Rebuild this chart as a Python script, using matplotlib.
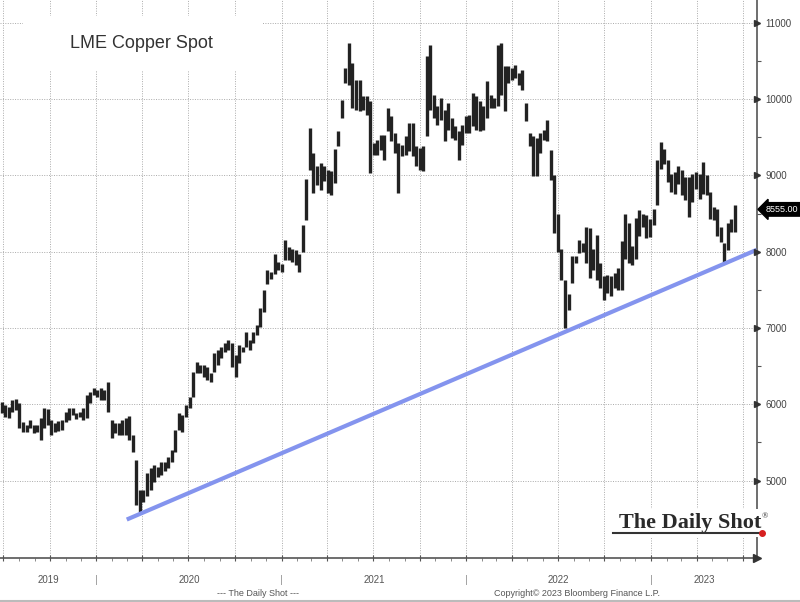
import pandas as pd
import matplotlib
matplotlib.use("Agg")
import matplotlib.pyplot as plt
import matplotlib.dates as mdates
import matplotlib.transforms as mtransforms
from matplotlib.lines import Line2D
from matplotlib.patches import Rectangle

# weekly LME copper bars (high / low), starting 2019-06-28
high = [6030, 5990, 5965, 6057, 6070, 6017, 5770, 5730, 5795, 5730,
        5730, 5820, 5950, 5940, 5800, 5757, 5780, 5800, 5900, 5950,
        5950, 5880, 5900, 5950, 6120, 6160, 6215, 6190, 6215, 6190,
        6290, 5795, 5760, 5760, 5800, 5820, 5850, 5600, 5270, 4880,
        4880, 5100, 5160, 5206, 5184, 5250, 5250, 5315, 5402, 5664,
        5882, 5860, 5990, 6100, 6427, 6558, 6514, 6514, 6492, 6405,
        6667, 6710, 6754, 6798, 6841, 6798, 6645, 6776, 6754, 6950,
        6841, 6950, 7038, 7256, 7495, 7757, 7736, 7975, 7866, 7844,
        8150, 8062, 8040, 8019, 7975, 8346, 8956, 9620, 9293, 9118,
        9162, 9118, 9074, 9052, 9345, 9576, 9991, 10406, 10734, 10472,
        10253, 10253, 10035, 10035, 9970, 9424, 9467, 9533, 9533, 9882,
        9773, 9555, 9424, 9402, 9511, 9686, 9686, 9380, 9358, 9380,
        10559, 10712, 10057, 9904, 10013, 9860, 9948, 9751, 9642, 9576,
        9664, 9773, 9795, 10079, 10035, 9970, 9904, 10231, 10057, 10013,
        10712, 10734, 10428, 10428, 10406, 10450, 10340, 10384, 9948, 9555,
        9511, 9489, 9555, 9598, 9729, 9336, 9000, 8500, 8030, 7630,
        7440, 7940, 7940, 8160, 8110, 8330, 8310, 8030, 8220, 7850,
        7680, 7700, 7680, 7720, 7790, 8140, 8500, 8370, 8070, 8440,
        8550, 8500, 8478, 8435, 8565, 9196, 9435, 9348, 9196, 9022,
        9043, 9130, 9065, 8978, 8978, 9022, 9043, 9022, 9174, 9000,
        8783, 8587, 8565, 8326, 8109, 8370, 8435, 8609]
low = [5885, 5835, 5820, 5900, 5925, 5690, 5640, 5640, 5690, 5625,
       5640, 5533, 5690, 5730, 5600, 5640, 5650, 5670, 5770, 5790,
       5860, 5810, 5830, 5800, 5820, 6018, 6120, 6090, 6060, 6060,
       5900, 5560, 5620, 5600, 5600, 5600, 5530, 5375, 4680, 4590,
       4720, 4800, 4880, 4988, 5054, 5075, 5120, 5162, 5250, 5380,
       5664, 5640, 5838, 5947, 6100, 6405, 6405, 6362, 6318, 6296,
       6427, 6514, 6601, 6689, 6710, 6492, 6362, 6536, 6689, 6754,
       6710, 6798, 6906, 7016, 7212, 7583, 7648, 7713, 7757, 7735,
       7888, 7888, 7866, 7822, 7735, 8000, 8411, 9074, 8768, 8878,
       8812, 8921, 8768, 8747, 8900, 9380, 9751, 10210, 10188, 9882,
       9860, 9838, 9860, 9795, 9030, 9270, 9270, 9336, 9205, 9576,
       9445, 9293, 8768, 9249, 9270, 9314, 9249, 9118, 9074, 9052,
       9511, 9860, 9751, 9664, 9729, 9445, 9598, 9489, 9467, 9205,
       9402, 9555, 9555, 9642, 9598, 9576, 9598, 9751, 9882, 9882,
       9904, 10057, 9838, 10210, 10253, 10275, 10188, 10122, 9707, 9380,
       8987, 8987, 9293, 9467, 9445, 8943, 8244, 8000, 7630, 7000,
       7240, 7590, 7850, 7980, 8000, 7850, 7650, 7760, 7630, 7520,
       7370, 7460, 7420, 7520, 7500, 7500, 7900, 7848, 7830, 7900,
       8200, 8326, 8174, 8196, 8348, 8609, 9087, 9152, 8913, 8783,
       8761, 8891, 8739, 8674, 8457, 8652, 8826, 8696, 8761, 8739,
       8435, 8413, 8200, 8130, 7848, 8022, 8261, 8261]
last_price = 8555.00

trend_dates = ["2020-03-01", "2023-07-29"]
trend_values = [4490, 8025]

years = [2019, 2020, 2021, 2022, 2023]
yticks = [5000, 6000, 7000, 8000, 9000, 10000, 11000]

plt.rcParams["font.family"] = ["Liberation Sans", "DejaVu Sans"]

dates = pd.date_range("2019-06-28", periods=len(high), freq="W-FRI")

fig = plt.figure(figsize=(8, 6.02), dpi=100)
ax = fig.add_axes([0, 44 / 602, 757 / 800, 558 / 602])

ax.vlines(dates, low, high, color="#222222", lw=2.4, zorder=3)
ax.plot(pd.to_datetime(trend_dates), trend_values, color="#8494ee", lw=3,
        solid_capstyle="butt", zorder=4)

x0 = mdates.date2num(pd.Timestamp("2019-06-24 12:00"))
x1 = mdates.date2num(pd.Timestamp("2023-07-29 12:00"))
ax.set_xlim(x0, x1)
ax.set_ylim(3986, 11299)

ax.xaxis.set_major_locator(mdates.MonthLocator(bymonth=[1, 4, 7, 10]))
ax.xaxis.set_minor_locator(mdates.MonthLocator())
ax.xaxis.set_major_formatter(plt.NullFormatter())
ax.yaxis.tick_right()
ax.set_yticks(yticks)
ax.set_yticks(range(4500, 11500, 1000), minor=True)
ax.set_yticklabels([str(v) for v in yticks])
ax.tick_params(axis="y", which="major", length=0, pad=6, labelsize=7, labelcolor="#444444")
ax.tick_params(axis="y", which="minor", length=3, color="#555555", width=0.8)
ax.tick_params(axis="x", which="major", length=4, direction="inout", color="#555555")
ax.tick_params(axis="x", which="minor", length=2.5, direction="out", color="#777777")
ax.grid(True, which="major", color="#aaaaaa", ls=(0, (1, 1.5)), lw=0.7)
for s in ["top", "left"]:
    ax.spines[s].set_visible(False)
for s in ["right", "bottom"]:
    ax.spines[s].set_color("#555555")
    ax.spines[s].set_linewidth(1.2)

# arrow heads on the axes
rt = mtransforms.blended_transform_factory(ax.transAxes, ax.transData)
ax.plot([1] * len(yticks), yticks, transform=rt, ls="none", marker=">", ms=4,
        color="#333333", clip_on=False, zorder=6)
ax.plot([1], [0], transform=ax.transAxes, ls="none", marker=">", ms=6,
        color="#333333", clip_on=False, zorder=6)

# title box
ax.add_patch(Rectangle((23 / 757, (558 - 71) / 558), 240 / 757, 55 / 558,
                       transform=ax.transAxes, fc="white", ec="none", zorder=2))
ax.text(141 / 757, (558 - 43) / 558, "LME Copper Spot", transform=ax.transAxes,
        ha="center", va="center", fontsize=13, color="#333333", zorder=5)

# last price tag
ax.annotate(f"{last_price:.2f}", xy=(1, last_price), xycoords=rt, xytext=(6, 0),
            textcoords="offset points", va="center", ha="left", color="white",
            fontsize=6.5, annotation_clip=False,
            bbox=dict(boxstyle="larrow,pad=0.25", fc="black", ec="black"))

# year labels under the axis
yt = mtransforms.blended_transform_factory(ax.transData, fig.transFigure)
for yr in years:
    a = max(mdates.date2num(pd.Timestamp(f"{yr}-01-01")), x0)
    b = min(mdates.date2num(pd.Timestamp(f"{yr + 1}-01-01")), x1)
    ax.text((a + b) / 2, 1 - 580 / 602, str(yr), transform=yt, ha="center",
            va="center", fontsize=7, color="#555555")
    if yr > years[0]:
        ax.text(a, 1 - 580 / 602, "|", transform=yt, ha="center", va="center",
                fontsize=8, color="#999999")

fig.text(258 / 800, 1 - 593 / 602, "--- The Daily Shot ---", ha="center", va="center",
         fontsize=6.5, color="#555555")
fig.text(577 / 800, 1 - 593 / 602, "Copyright\u00a9 2023 Bloomberg Finance L.P.",
         ha="center", va="center", fontsize=6.5, color="#555555")

# logo
fig.text(761 / 800, 1 - 528 / 602, "The Daily Shot", ha="right", va="baseline",
         fontsize=16, fontweight="bold", family="Liberation Serif", color="#2a2a2a",
         bbox=dict(fc="white", ec="none", pad=3), zorder=4)
fig.text(762 / 800, 1 - 518 / 602, "\u00ae", ha="left", va="baseline", fontsize=6,
         family="Liberation Serif", color="#2a2a2a", zorder=5)
fig.add_artist(Line2D([613 / 800, 760 / 800], [1 - 533 / 602] * 2, color="#333333",
                      lw=1.5, zorder=6))
fig.add_artist(Line2D([762 / 800], [1 - 533 / 602], marker="o", ms=4, color="#d62020",
                      zorder=7))
fig.add_artist(Line2D([0, 1], [0.6 / 602] * 2, color="#bbbbbb", lw=1.5))

fig.savefig("out.png", dpi=100)
